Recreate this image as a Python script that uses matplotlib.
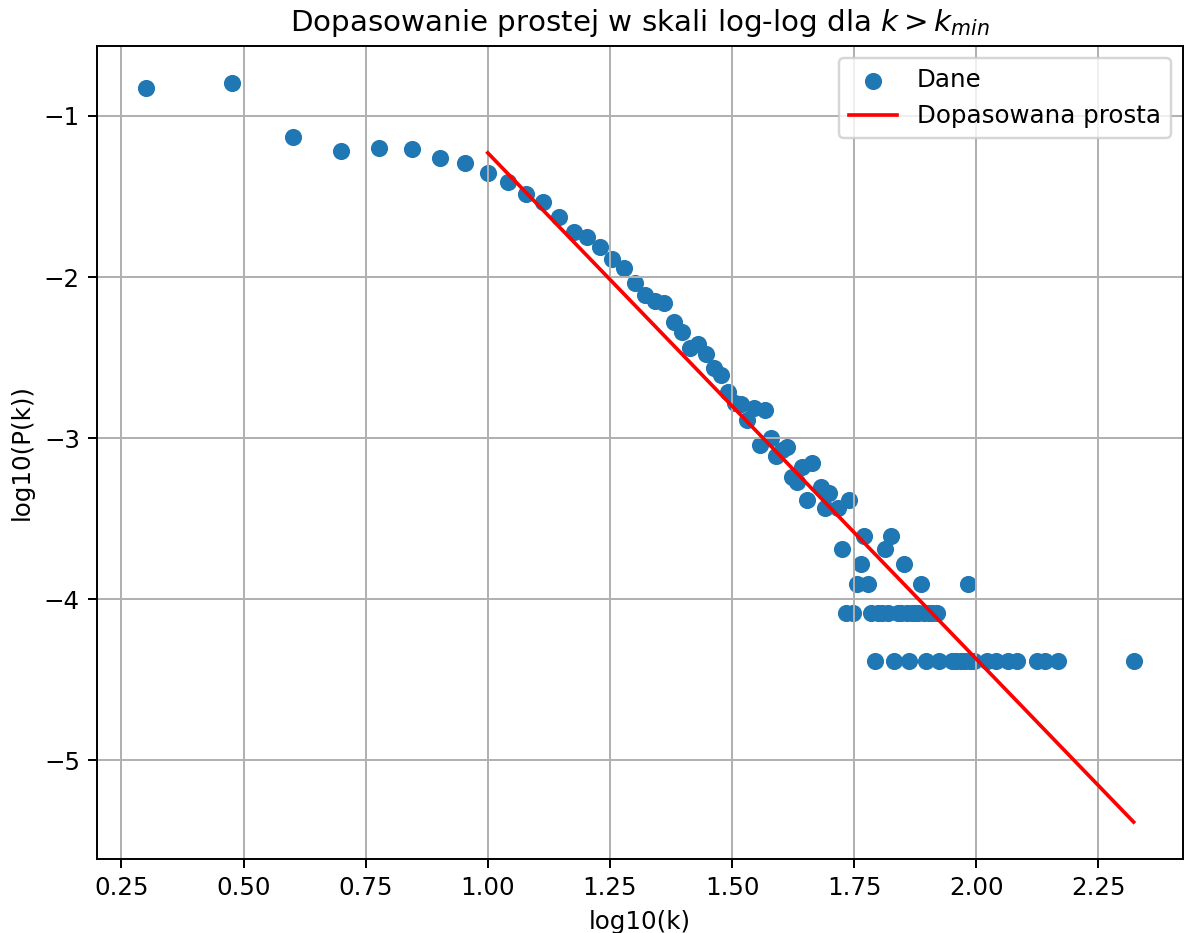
import numpy as np
import matplotlib
matplotlib.use("Agg")
import matplotlib.pyplot as plt

# stopnie wierzcholkow i odczytane log10(P(k))
k = [2, 3, 4, 5, 6, 7, 8, 9, 10, 11, 12, 13, 14, 15, 16, 17, 18, 19, 20,
     21, 22, 23, 24, 25, 26, 27, 28, 29, 30, 31, 32, 33, 34, 35, 36, 37, 38, 39, 40,
     41, 42, 43, 44, 45, 46, 48, 49, 50, 52, 53, 54, 55, 56, 57, 58, 59, 60,
     61, 62, 63, 64, 65, 66, 67, 68, 69, 70, 71, 72, 73, 74, 75, 76, 77, 78,
     79, 80, 81, 83, 84, 89, 91, 93, 95, 96, 97, 99, 105, 110, 116, 121, 133,
     138, 147, 210]
log_pk = [-0.826, -0.795, -1.13, -1.217, -1.198, -1.205, -1.26, -1.29, -1.355,
          -1.407, -1.486, -1.535, -1.624, -1.717, -1.752, -1.814, -1.889, -1.945, -2.034,
          -2.114, -2.151, -2.162, -2.276, -2.342, -2.441, -2.416, -2.476, -2.565, -2.610,
          -2.710, -2.78, -2.79, -2.885, -2.813, -3.040, -2.823, -2.999, -3.113, -3.07,
          -3.055, -3.238, -3.270, -3.180, -3.384, -3.154, -3.305, -3.430, -3.343, -3.430,
          -3.685, -4.083, -3.384, -4.083, -3.907, -3.782, -3.606, -3.907,
          -4.083, -4.384, -4.083, -4.083, -3.685, -4.083, -3.606, -4.384, -4.083, -4.083,
          -3.782, -4.083, -4.384, -4.083, -4.083, -4.083, -3.907, -4.083,
          -4.384, -4.083, -4.083, -4.083, -4.384, -4.384, -4.384, -4.384, -4.384, -3.907,
          -4.384, -4.384, -4.384, -4.384, -4.384, -4.384, -4.384,
          -4.384, -4.384, -4.384]

k_min = 10
slope = -3.141
intercept = 1.912

x = np.log10(k)
y = np.array(log_pk)
x_fit = x[np.array(k) >= k_min]
y_fit = intercept + slope * x_fit

DPI = 176
fig = plt.figure(figsize=(1184 / DPI, 933 / DPI), dpi=DPI)
ax = fig.add_axes([97 / 1184, 1 - 859 / 933, 1086 / 1184, 813 / 933])

ax.scatter(x, y, label="Dane")
ax.plot(x_fit, y_fit, color="red", label="Dopasowana prosta")
ax.set_xlabel("log10(k)")
ax.set_ylabel("log10(P(k))")
ax.set_title("Dopasowanie prostej w skali log-log dla $k > k_{min}$")
ax.legend()
ax.grid(True)

fig.savefig("out.png", dpi=DPI)
